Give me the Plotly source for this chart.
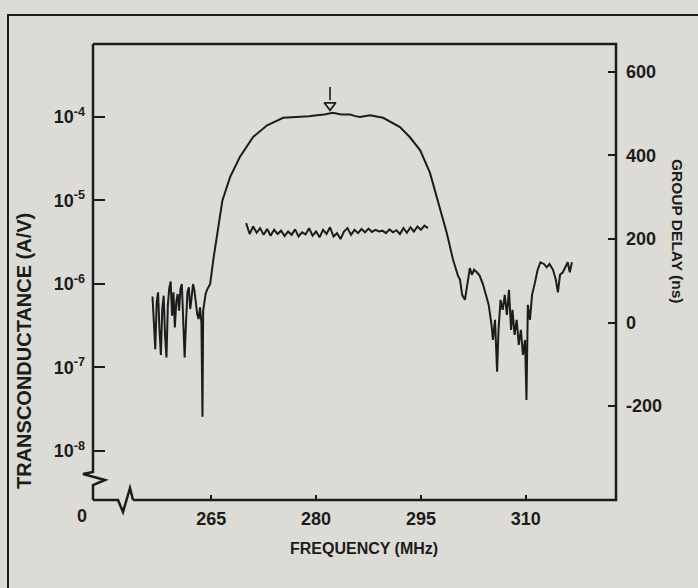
import plotly.graph_objects as go

# ---------------- data ----------------
# Transconductance trace: frequency (MHz) and log10 of transconductance (A/V)
tc_freq = [
    256.6, 256.8, 257.0, 257.2, 257.4, 257.6, 257.8, 258.0, 258.2, 258.4,
    258.6, 258.8, 259.0, 259.2, 259.4, 259.6, 259.8, 260.0, 260.2, 260.4,
    260.6, 260.8, 261.0, 261.2, 261.4, 261.6, 261.8, 262.0, 262.2, 262.4,
    262.6, 262.8, 263.0, 263.2, 263.4, 263.6, 263.75, 263.85, 264.0, 264.2,
    264.4,
    264.85, 265.3, 265.9, 266.6, 267.7, 269.1, 271.0, 273.0, 275.3, 277.7,
    279.0, 280.1, 281.2, 282.4, 283.6, 284.9, 285.6, 286.3, 287.7, 289.6,
    292.0, 293.4, 294.9, 296.3, 297.4, 298.7, 299.6, 300.3,
    300.6, 300.9, 301.3, 301.6, 302.0, 302.3, 302.6, 303.0, 303.4, 303.9,
    304.3, 304.7, 305.1, 305.3, 305.6, 305.9, 306.1, 306.4, 306.7, 307.0,
    307.3, 307.6, 307.9, 308.1, 308.4, 308.7, 309.0, 309.3, 309.6, 309.9,
    310.1, 310.3, 310.6, 310.9, 311.3, 311.7, 312.1, 312.6, 313.0, 313.4,
    313.9, 314.3, 314.6, 314.9, 315.3, 315.6, 316.0, 316.3, 316.6,
]
tc_log10 = [
    -6.15, -6.42, -6.78, -6.22, -6.10, -6.55, -6.85, -6.30, -6.14, -6.62,
    -6.88, -6.25, -6.05, -5.97, -6.38, -6.10, -6.52, -6.22, -6.12, -6.32,
    -6.06, -6.00, -6.42, -6.88, -6.45, -6.10, -6.04, -6.30, -6.16, -6.00,
    -6.08, -6.26, -6.36, -6.42, -6.28, -6.46, -7.59, -6.32, -6.22, -6.12,
    -6.07,
    -6.00, -5.71, -5.39, -5.00, -4.72, -4.48, -4.24, -4.10, -4.01, -4.00,
    -3.99, -3.98, -3.97, -3.95, -3.97, -3.97, -3.99, -4.00, -3.98, -4.01,
    -4.12, -4.24, -4.40, -4.67, -5.00, -5.39, -5.71, -5.90,
    -5.95, -6.13, -6.19, -6.01, -5.81, -5.89, -5.83, -5.86, -5.90, -6.01,
    -6.13, -6.25, -6.49, -6.67, -6.43, -7.05, -6.55, -6.19, -6.31, -6.13,
    -6.37, -6.07, -6.55, -6.31, -6.61, -6.43, -6.73, -6.55, -6.85, -6.67,
    -7.39, -6.25, -6.43, -6.13, -5.99, -5.83, -5.74, -5.76, -5.80, -5.76,
    -5.83, -5.95, -6.10, -5.89, -5.86, -5.81, -5.74, -5.86, -5.74,
]

# Group delay trace (ns)
gd_freq = [
    270.0, 270.5, 271.0, 271.5, 272.0, 272.5, 273.0, 273.5, 274.0, 274.5,
    275.0, 275.5, 276.0, 276.5, 277.0, 277.5, 278.0, 278.5, 279.0, 279.5,
    280.0, 280.5, 281.0, 281.5, 282.0, 282.5, 283.0, 283.5, 284.0, 284.5,
    285.0, 285.5, 286.0, 286.5, 287.0, 287.5, 288.0, 288.5, 289.0, 289.5,
    290.0, 290.5, 291.0, 291.5, 292.0, 292.5, 293.0, 293.5, 294.0, 294.5,
    295.0, 295.5, 296.0,
]
gd_ns = [
    238, 212, 230, 215, 226, 210, 224, 208, 222, 212,
    220, 207, 218, 210, 223, 206, 216, 211, 226, 208,
    218, 204, 222, 212, 228, 206, 214, 200, 218, 226,
    210, 222, 214, 224, 216, 225, 217, 222, 218, 220,
    214, 223, 216, 221, 212, 226, 215, 228, 218, 230,
    222, 232, 226,
]

# Peak marker (open arrow above the passband)
peak_marker_freq = 282.0
peak_marker_log10 = -3.86
peak_stem_log10 = [-3.64, -3.80]

# Axes
x_tickvals = [265, 280, 295, 310]
x_ticktext = ["265", "280", "295", "310"]
y_tickvals = [1e-4, 1e-5, 1e-6, 1e-7, 1e-8]
y_ticktext = ["10<sup>-4</sup>", "10<sup>-5</sup>", "10<sup>-6</sup>",
              "10<sup>-7</sup>", "10<sup>-8</sup>"]
y2_tickvals = [600, 400, 200, 0, -200]
y2_ticktext = ["600", "400", "200", "0", "-200"]

x_range = [248.09, 322.91]
y_range_log = [-8.587, -3.126]
y2_range = [-425, 667]

# ---------------- figure ----------------
W, H = 698, 588
L, R, T, B = 93, 616, 44, 500
INK = "#1c1c1c"
BG = "#dcdbd5"


def px(x):
    return (x - L) / (R - L)


def py(y):
    return (B - y) / (B - T)


fig = go.Figure()

fig.add_trace(go.Scatter(
    x=tc_freq, y=[10 ** v for v in tc_log10], mode="lines",
    line=dict(color=INK, width=2), showlegend=False, hoverinfo="skip",
))
fig.add_trace(go.Scatter(
    x=gd_freq, y=gd_ns, mode="lines", yaxis="y2",
    line=dict(color=INK, width=2), showlegend=False, hoverinfo="skip",
))
fig.add_trace(go.Scatter(
    x=[peak_marker_freq, peak_marker_freq],
    y=[10 ** v for v in peak_stem_log10], mode="lines",
    line=dict(color=INK, width=1.6), showlegend=False, hoverinfo="skip",
))
fig.add_trace(go.Scatter(
    x=[peak_marker_freq], y=[10 ** peak_marker_log10], mode="markers",
    marker=dict(symbol="triangle-down-open", size=10, color=INK,
                line=dict(width=1.8, color=INK)),
    showlegend=False, hoverinfo="skip",
))

tickfont = dict(family="Liberation Sans, Arial, sans-serif", size=18,
                color=INK, weight="bold")
title_family = "Liberation Sans, Arial, sans-serif"

fig.update_layout(
    width=W, height=H,
    margin=dict(l=L, r=W - R, t=T, b=H - B, pad=0),
    paper_bgcolor=BG, plot_bgcolor=BG,
    showlegend=False,
    xaxis=dict(
        range=x_range, showgrid=False, zeroline=False, showline=False,
        tickmode="array", tickvals=x_tickvals, ticktext=x_ticktext,
        ticks="inside", ticklen=5, tickwidth=2, tickcolor=INK,
        tickfont=tickfont, ticklabelstandoff=6,
    ),
    yaxis=dict(
        type="log", range=y_range_log, showgrid=False, zeroline=False,
        showline=False, tickmode="array", tickvals=y_tickvals,
        ticktext=y_ticktext, ticks="inside", ticklen=12, tickwidth=2,
        tickcolor=INK, tickfont=tickfont, ticklabelstandoff=7,
    ),
    yaxis2=dict(
        overlaying="y", side="right", range=y2_range, showgrid=False,
        zeroline=False, showline=False, tickmode="array",
        tickvals=y2_tickvals, ticktext=y2_ticktext, ticks="inside",
        ticklen=8, tickwidth=2, tickcolor=INK, tickfont=tickfont,
        ticklabelstandoff=9,
    ),
)

# Axis frame with breaks near the origin
axis_line = dict(color=INK, width=2.5)


def path(points):
    return "M " + " L ".join(f"{px(x):.5f},{py(y):.5f}" for x, y in points)


shapes = [
    dict(type="path", xref="paper", yref="paper",
         path=path([(L, T), (R, T), (R, B), (133, B)]), line=axis_line),
    dict(type="path", xref="paper", yref="paper",
         path=path([(133, B), (130, 488), (123, 512), (118, B), (L, B)]),
         line=axis_line),
    dict(type="path", xref="paper", yref="paper",
         path=path([(L, T), (L, 472), (83, 474), (105, 480), (L, 485), (L, B)]),
         line=axis_line),
    dict(type="rect", xref="paper", yref="paper",
         x0=px(8), x1=px(720), y0=py(15), y1=py(610),
         line=dict(color=INK, width=2)),
]
fig.update_layout(shapes=shapes)

annotations = [
    dict(text="0", x=px(82), y=py(516), xref="paper", yref="paper",
         showarrow=False, font=tickfont, xanchor="center", yanchor="middle"),
    dict(text="FREQUENCY (MHz)", x=px(364), y=py(548), xref="paper",
         yref="paper", showarrow=False, xanchor="center", yanchor="middle",
         font=dict(family=title_family, size=16, color=INK, weight="bold")),
    dict(text="TRANSCONDUCTANCE (A/V)", x=px(24), y=py(351), xref="paper",
         yref="paper", showarrow=False, textangle=-90, xanchor="center",
         yanchor="middle",
         font=dict(family=title_family, size=20, color=INK, weight="bold")),
    dict(text="GROUP DELAY (ns)", x=px(678), y=py(231), xref="paper",
         yref="paper", showarrow=False, textangle=90, xanchor="center",
         yanchor="middle",
         font=dict(family=title_family, size=15.5, color=INK, weight="bold")),
]
fig.update_layout(annotations=annotations)

fig.write_html(
    "out.html",
    config={"displayModeBar": False},
    post_script=(
        "document.body.style.margin='0';"
        f"document.body.style.background='{BG}';"
    ),
)
